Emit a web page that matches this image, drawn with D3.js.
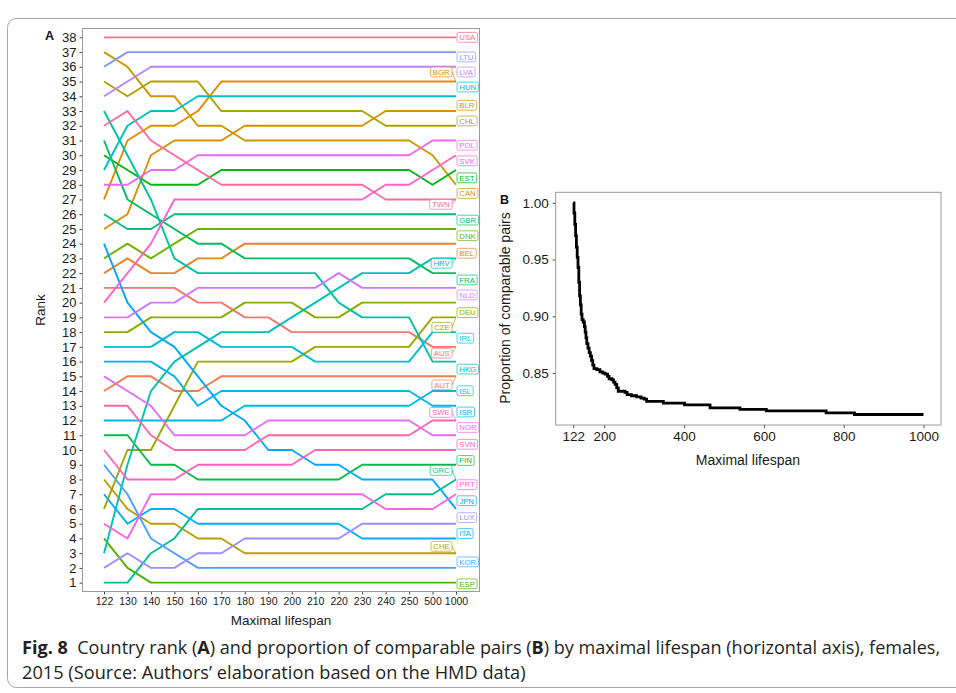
<!DOCTYPE html>
<html><head><meta charset="utf-8">
<script src="https://cdn.jsdelivr.net/npm/d3@7/dist/d3.min.js"></script>
<style>body{margin:0;background:#fff} svg{display:block}</style>
</head><body>
<svg id="c" width="956" height="693"></svg>
<script>
// ---------------- DATA ----------------
const lifespans = ["122","130","140","150","160","170","180","190","200","210","220","230","240","250","500","1000"];
const countries = ["AUS","AUT","BEL","BGR","BLR","CAN","CHE","CHL","CZE","DEU","DNK","ESP","EST","FIN","FRA","GBR","GRC","HKG","HRV","HUN","IRL","ISL","ISR","ITA","JPN","KOR","LTU","LUX","LVA","NLD","NOR","POL","PRT","SVK","SVN","SWE","TWN","USA"];
const ranks = [
  [21,21,21,21,20,20,19,19,18,18,18,18,18,18,17,17], // AUS
  [14,15,15,14,14,15,15,15,15,15,15,15,15,15,15,15], // AUT
  [22,23,22,22,23,23,24,24,24,24,24,24,24,24,24,24], // BEL
  [27,31,32,32,33,35,35,35,35,35,35,35,35,35,35,35], // BGR
  [25,26,30,31,31,31,32,32,32,32,32,32,33,33,33,33], // BLR
  [37,36,34,34,32,32,31,31,31,31,31,31,31,31,30,28], // CAN
  [8,6,5,5,4,4,3,3,3,3,3,3,3,3,3,3],                 // CHE
  [35,34,35,35,35,33,33,33,33,33,33,33,32,32,32,32], // CHL
  [6,10,10,13,16,16,16,16,16,17,17,17,17,17,19,19],  // CZE
  [18,18,19,19,19,19,20,20,20,19,19,20,20,20,20,20], // DEU
  [23,24,23,24,25,25,25,25,25,25,25,25,25,25,25,25], // DNK
  [4,2,1,1,1,1,1,1,1,1,1,1,1,1,1,1],                 // ESP
  [30,29,28,28,28,29,29,29,29,29,29,29,29,29,28,29], // EST
  [11,11,9,9,8,8,8,8,8,8,8,9,9,9,9,9],               // FIN
  [31,27,26,25,24,24,23,23,23,23,23,23,23,23,22,22], // FRA
  [26,25,25,26,26,26,26,26,26,26,26,26,26,26,26,26], // GBR
  [1,1,3,4,6,6,6,6,6,6,6,6,7,7,7,8],                 // GRC
  [33,30,27,23,22,22,22,22,22,22,20,19,19,19,16,16], // HKG
  [3,9,14,16,17,18,18,18,19,20,21,22,22,22,23,23],   // HRV
  [29,32,33,33,34,34,34,34,34,34,34,34,34,34,34,34], // HUN
  [17,17,17,18,18,17,17,17,17,16,16,16,16,16,18,18], // IRL
  [12,12,12,12,12,12,13,13,13,13,13,13,13,13,14,14], // ISL
  [16,16,16,15,13,14,14,14,14,14,14,14,14,14,13,13], // ISR
  [7,5,6,6,5,5,5,5,5,5,5,4,4,4,4,4],                 // ITA
  [24,20,18,17,15,13,12,10,10,9,9,8,8,8,8,6],        // JPN
  [9,7,4,3,2,2,2,2,2,2,2,2,2,2,2,2],                 // KOR
  [36,37,37,37,37,37,37,37,37,37,37,37,37,37,37,37], // LTU
  [2,3,2,2,3,3,4,4,4,4,4,5,5,5,5,5],                 // LUX
  [34,35,36,36,36,36,36,36,36,36,36,36,36,36,36,36], // LVA
  [19,19,20,20,21,21,21,21,21,21,22,21,21,21,21,21], // NLD
  [15,14,13,11,11,11,11,12,12,12,12,12,12,12,11,11], // NOR
  [28,28,29,29,30,30,30,30,30,30,30,30,30,30,31,31], // POL
  [5,4,7,7,7,7,7,7,7,7,7,7,6,6,6,7],                 // PRT
  [20,22,24,27,27,27,27,27,27,27,27,27,28,28,29,30], // SVK
  [10,8,8,8,9,9,9,9,9,10,10,10,10,10,10,10],         // SVN
  [13,13,11,10,10,10,10,11,11,11,11,11,11,11,12,12], // SWE
  [32,33,31,30,29,28,28,28,28,28,28,28,27,27,27,27], // TWN
  [38,38,38,38,38,38,38,38,38,38,38,38,38,38,38,38]  // USA
];
// repelled label placement (rank units) and side, as in the picture
const labelRank = [16.57,14.42,23.35,35.65,33.39,27.41,3.47,32.33,18.33,19.32,24.54,0.92,28.47,9.29,21.54,25.60,8.62,15.49,22.67,34.63,17.59,14.02,12.58,4.33,6.56,2.41,36.67,5.41,35.65,20.52,11.53,30.68,7.65,29.62,10.39,12.55,26.67,38.0];
const labelSide = ["L","L","R","L","R","R","L","R","L","R","R","R","R","R","R","R","L","R","L","R","R","R","R","R","R","R","R","R","R","R","R","R","R","R","R","L","L","R"];
const rankTicks = d3.range(1, 39);

const bLifespan   = [122,124,126,128,130,132,134,136,138,140,142,144,147,150,152,154,156,159,162,165,168,171,174,181,189,196,202,208,212,219,223,227,231,235,252,257,268,281,292,300,306,348,401,465,540,606,756,827,1000];
const bProportion = [1.000,0.991,0.981,0.971,0.961,0.952,0.943,0.930,0.918,0.910,0.902,0.897,0.895,0.891,0.886,0.881,0.876,0.872,0.868,0.865,0.861,0.857,0.854,0.853,0.851,0.850,0.849,0.847,0.845,0.844,0.842,0.840,0.837,0.834,0.833,0.831,0.830,0.829,0.828,0.827,0.825,0.8235,0.822,0.8193,0.818,0.8167,0.815,0.8135,0.8135];
const bXTicks = [122,200,400,600,800,1000];
const bYTicks = [0.85,0.90,0.95,1.00];

// ---------------- COLOURS (ggplot hue_pal, polar LUV) ----------------
function hclLuv(h, c, l){
  const Xn=95.047, Yn=100, Zn=108.883;
  const hr = h*Math.PI/180, u = c*Math.cos(hr), v = c*Math.sin(hr);
  const Y = l>8 ? Yn*Math.pow((l+16)/116,3) : Yn*l/903.3;
  const den = Xn+15*Yn+3*Zn, un = 4*Xn/den, vn = 9*Yn/den;
  const up = u/(13*l)+un, vp = v/(13*l)+vn;
  const X = Y*9*up/(4*vp), Z = Y*(12-3*up-20*vp)/(4*vp);
  const x=X/100, y=Y/100, z=Z/100;
  const r = 3.240479*x - 1.537150*y - 0.498535*z;
  const g = -0.969256*x + 1.875992*y + 0.041556*z;
  const b = 0.055648*x - 0.204043*y + 1.057311*z;
  const gm = t => { t = t<=0.0031308 ? 12.92*t : 1.055*Math.pow(t,1/2.4)-0.055; return Math.round(255*Math.max(0,Math.min(1,t))); };
  return d3.rgb(gm(r),gm(g),gm(b)).formatHex();
}
const n = countries.length;
const colors = countries.map((c,i)=> hclLuv((15 + i*360/n) % 360, 100, 65));

// ---------------- DRAW ----------------
const svg = d3.select("#c");
const FONT = "Liberation Sans, Arial, Helvetica, sans-serif";
const ink = "#1a1a1a", frameCol = "#9a9a9a";

// outer figure box
svg.append("rect").attr("x",7.5).attr("y",18.5).attr("width",1000).attr("height",669)
  .attr("rx",9).attr("fill","none").attr("stroke","#a8a8a8").attr("stroke-width",1);

// ===== Panel A =====
const A = {l:82.5, r:479.5, t:28.5, b:591.5};
const x = d3.scalePoint().domain(lifespans).range([104,456]);
const y = d3.scaleLinear().domain([0.4,38.6]).range([A.b, A.t]);

const gA = svg.append("g");
const yAx = gA.append("g").attr("transform",`translate(${A.l},0)`)
  .call(d3.axisLeft(y).tickValues(rankTicks).tickSize(3).tickPadding(3).tickFormat(d3.format("d")));
yAx.select(".domain").remove();
yAx.selectAll("text").attr("font-family",FONT).attr("font-size",13).attr("fill",ink);
yAx.selectAll("line").attr("stroke","#444");

const xAx = gA.append("g").attr("transform",`translate(0,${A.b})`)
  .call(d3.axisBottom(x).tickSize(3).tickPadding(3));
xAx.select(".domain").remove();
xAx.selectAll("text").attr("font-family",FONT).attr("font-size",10.5).attr("fill",ink);
xAx.selectAll("line").attr("stroke","#444");

const line = d3.line().x((d,i)=>x(lifespans[i])).y(d=>y(d));
gA.append("g").selectAll("path").data(ranks).join("path")
  .attr("d", line).attr("fill","none")
  .attr("stroke",(d,i)=>colors[i]).attr("stroke-width",1.9).attr("stroke-linejoin","round");

// labels
const lg = gA.append("g");
countries.forEach((c,i)=>{
  const px = x("1000"), py = y(ranks[i][15]), ly = y(labelRank[i]);
  const g = lg.append("g");
  const t = g.append("text").text(c).attr("font-family",FONT).attr("font-size",7.8)
    .attr("fill",colors[i]).attr("text-anchor","middle").attr("dominant-baseline","central");
  const tw = t.node().getComputedTextLength();
  const w = tw + 4.5, h = 9.8;
  const bx = labelSide[i]==="R" ? px + 1 : px - 4 - w;
  if (labelSide[i]==="L") {
    g.insert("line","text").attr("x1",bx+w).attr("y1",ly).attr("x2",px).attr("y2",py)
      .attr("stroke",colors[i]).attr("stroke-width",0.7);
  }
  g.insert("rect","text").attr("x",bx).attr("y",ly-h/2).attr("width",w).attr("height",h)
    .attr("rx",1.6).attr("fill","#fff").attr("stroke",colors[i]).attr("stroke-width",0.7);
  t.attr("x",bx+w/2).attr("y",ly+0.3);
});

gA.append("rect").attr("x",A.l).attr("y",A.t).attr("width",A.r-A.l).attr("height",A.b-A.t)
  .attr("fill","none").attr("stroke",frameCol).attr("stroke-width",1);

gA.append("text").text("A").attr("x",45).attr("y",39.5).attr("font-family",FONT)
  .attr("font-weight","bold").attr("font-size",12.5).attr("fill","#111");
gA.append("text").text("Rank").attr("transform",`translate(45,${(A.t+A.b)/2}) rotate(-90)`)
  .attr("text-anchor","middle").attr("font-family",FONT).attr("font-size",13.5).attr("fill",ink);
gA.append("text").text("Maximal lifespan").attr("x",281).attr("y",625)
  .attr("text-anchor","middle").attr("font-family",FONT).attr("font-size",13.5).attr("fill",ink);

// ===== Panel B =====
const B = {l:555.7, r:941, t:192.3, b:425};
const xb = d3.scaleLinear().domain([78.1,1043.9]).range([B.l,B.r]);
const yb = d3.scaleLinear().domain([0.80425,1.00925]).range([B.b,B.t]);
const gB = svg.append("g");
const ybAx = gB.append("g").attr("transform",`translate(${B.l},0)`)
  .call(d3.axisLeft(yb).tickValues(bYTicks).tickSize(3).tickPadding(4).tickFormat(d3.format(".2f")));
ybAx.select(".domain").remove();
ybAx.selectAll("text").attr("font-family",FONT).attr("font-size",13.5).attr("fill",ink);
ybAx.selectAll("line").attr("stroke","#444");
const xbAx = gB.append("g").attr("transform",`translate(0,${B.b})`)
  .call(d3.axisBottom(xb).tickValues(bXTicks).tickSize(3).tickPadding(3).tickFormat(d3.format("d")));
xbAx.select(".domain").remove();
xbAx.selectAll("text").attr("font-family",FONT).attr("font-size",13.5).attr("fill",ink);
xbAx.selectAll("line").attr("stroke","#444");

const bData = bLifespan.map((v,i)=>[v,bProportion[i]]);
gB.append("path").datum(bData)
  .attr("d", d3.line().curve(d3.curveStepAfter).x(d=>xb(d[0])).y(d=>yb(d[1])))
  .attr("fill","none").attr("stroke","#000").attr("stroke-width",2.8);

gB.append("rect").attr("x",B.l).attr("y",B.t).attr("width",B.r-B.l).attr("height",B.b-B.t)
  .attr("fill","none").attr("stroke",frameCol).attr("stroke-width",1);
gB.append("text").text("B").attr("x",500).attr("y",204).attr("font-family",FONT)
  .attr("font-weight","bold").attr("font-size",12.5).attr("fill","#111");
gB.append("text").text("Proportion of comparable pairs")
  .attr("transform",`translate(510,308) rotate(-90)`)
  .attr("text-anchor","middle").attr("font-family",FONT).attr("font-size",14).attr("fill",ink);
gB.append("text").text("Maximal lifespan").attr("x",748).attr("y",465)
  .attr("text-anchor","middle").attr("font-family",FONT).attr("font-size",14).attr("fill",ink);

// ===== Caption =====
const CF = "Open Sans, Noto Sans, sans-serif";
function capLine(parts, yb, targetW){
  const t = svg.append("text").attr("font-family",CF).attr("font-size",17.5).attr("fill","#231f20")
    .style("white-space","pre");
  parts.forEach(p=> t.append("tspan").text(p[0]).attr("font-weight",p[1]?"bold":"normal"));
  const w = t.node().getComputedTextLength();
  t.attr("transform",`translate(22,${yb}) scale(${targetW/w},1)`);
}
capLine([["Fig. 8",1],["\u00a0\u00a0Country rank (",0],["A",1],[") and proportion of comparable pairs (",0],["B",1],[") by maximal lifespan (horizontal axis), females,",0]], 654, 919);
capLine([["2015 (Source: Authors’ elaboration based on the HMD data)",0]], 679, 504);
</script>
</body></html>
